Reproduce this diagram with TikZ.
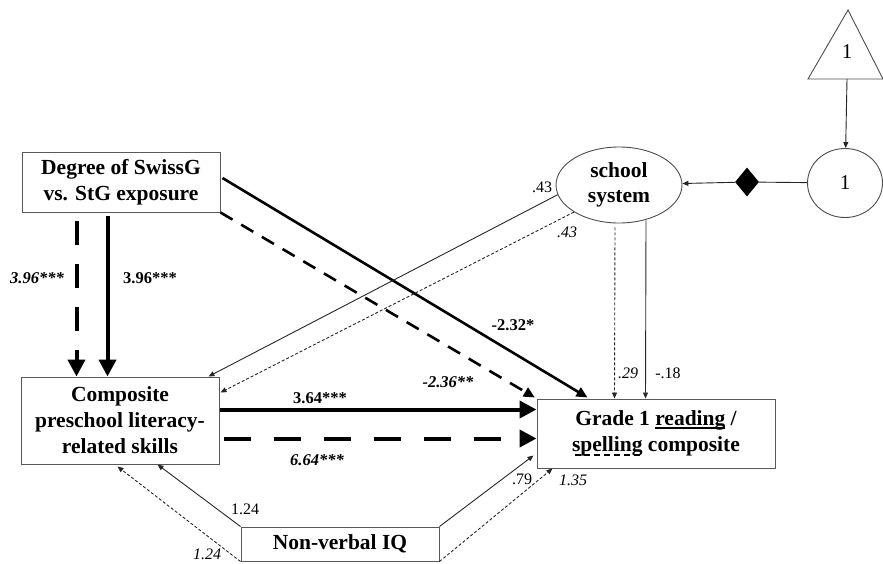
\documentclass[tikz,border=0pt]{standalone}
\usepackage{fontspec}
\setmainfont{Liberation Serif}
\usetikzlibrary{arrows.meta,shapes.geometric,calc}
\newsavebox{\ulbox}
\newcommand{\mythickul}[1]{\sbox{\ulbox}{#1}\rlap{\rule[-3pt]{\wd\ulbox}{1.8pt}}#1}
\newcommand{\mydashul}[1]{\sbox{\ulbox}{#1}\rlap{\hbox to \wd\ulbox{\xleaders\hbox{\hspace{1.5pt}\rule[-4pt]{6pt}{1.8pt}\hspace{1.5pt}}\hfill}}#1}
\begin{document}
\begin{tikzpicture}[x=1pt,y=-1pt,
  box/.style={draw=black!65, line width=1pt, align=center, inner sep=0pt,
    font=\fontsize{21.5}{26}\selectfont\bfseries},
  thickarr/.style={line width=4pt, -{Triangle[length=17pt,width=17pt]}},
  thickdash/.style={line width=4pt, dash pattern=on 24pt off 19pt, -{Triangle[length=17pt,width=17pt]}},
  midarr/.style={line width=2.6pt, -{Triangle[length=11pt,width=10pt]}},
  middash/.style={line width=2.6pt, dash pattern=on 14pt off 10pt, -{Triangle[length=11pt,width=10pt]}},
  thinarr/.style={line width=0.9pt, black!85, -{Triangle[length=6pt,width=5pt]}},
  thindash/.style={line width=0.9pt, black!85, dash pattern=on 3pt off 2pt, -{Triangle[length=6pt,width=5pt]}},
  lab/.style={inner sep=0pt, font=\fontsize{16}{16}\selectfont},
  blab/.style={inner sep=0pt, font=\fontsize{16.5}{16.5}\selectfont\bfseries},
  bilab/.style={inner sep=0pt, font=\fontsize{16.5}{16.5}\selectfont\bfseries\itshape},
  ilab/.style={inner sep=0pt, font=\fontsize{16}{16}\selectfont\itshape}
]
\useasboundingbox (0,0) rectangle (883,563);
% nodes
\node[box, minimum width=198pt, minimum height=60pt] (deg) at (121,182) {Degree of SwissG\\vs. StG exposure};
\node[box, minimum width=198pt, minimum height=87pt] (comp) at (120,420.5) {Composite\\preschool literacy-\\related skills};
\node[box, minimum width=238pt, minimum height=69pt] (grade) at (656,433.5)
  {Grade 1 \mythickul{reading} /\\ \mydashul{spelling} composite};
\node[box, minimum width=198pt, minimum height=34pt] (nviq) at (340,544) {Non-verbal IQ};
\node[ellipse, draw=black!70, line width=0.9pt, minimum width=126pt, minimum height=76pt, inner sep=0pt, align=center,
  font=\fontsize{21.5}{25}\selectfont\bfseries] (school) at (619,185) {school\\system};
\node[ellipse, draw=black!70, line width=0.9pt, minimum width=75pt, minimum height=69pt, inner sep=0pt,
  font=\fontsize{21}{21}\selectfont] (one) at (845,183) {1};
\draw[black!70, line width=0.9pt] (808,79) -- (848,10) -- (883,79) -- cycle;
\node[inner sep=0pt, font=\fontsize{21}{21}\selectfont] (tri) at (847,52) {1};
\coordinate (tribot) at (847,79);
\node[diamond, fill=black, minimum width=24pt, minimum height=29pt, inner sep=0pt] (dia) at (747,182) {};

% arrows
\draw[thinarr] (tribot) -- (one);
\draw[black!85, line width=0.9pt] (one) -- (dia);
\draw[thinarr] (dia) -- (school);

\draw[thickdash] ($(deg.south west)+(55,8)$) -- ($(comp.north west)+(56,0)$);
\draw[thickarr] ($(deg.south west)+(86,3)$) -- ($(comp.north west)+(87,0)$);
\draw[midarr] ($(deg.east)+(2,-4)$) -- ($(grade.north west)+(51,-1)$);
\draw[middash, shorten >=2pt] (deg.south east) -- (grade.north west);

\draw[thinarr] (school.189) -- ($(comp.north east)+(-11,0)$);
\draw[thindash] (school.211) -- ($(comp.north east)+(1,16)$);
\draw[thindash] ($(school.south)+(-4,4)$) -- ($(grade.north west)+(78,0)$);
\draw[thinarr] ($(school.south)+(27,-3)$) -- ($(grade.north west)+(109,0)$);

\draw[thickarr] ($(comp.north east)+(0,33)$) -- ($(grade.north west)+(0,11)$);
\draw[thickdash, dash pattern=on 27pt off 23pt] ($(comp.north east)+(4,62)$) -- ($(grade.north west)+(0,40)$);

\draw[thinarr] (nviq.north west) -- ($(comp.south west)+(137,0)$);
\draw[thindash] (nviq.south west) -- ($(comp.south west)+(97,2)$);
\draw[thinarr] (nviq.north east) -- ($(grade.south west)+(-3,-13)$);
\draw[thindash] (nviq.south east) -- ($(grade.south west)+(16,0)$);

% labels
\node[bilab] (l1) at (37,278) {3.96***};
\node[blab] (l2) at (150,278) {3.96***};
\node[blab] (l3) at (513,325) {-2.32*};
\node[bilab] (l4) at (448,382) {-2.36**};
\node[lab] (l5) at (542,187) {.43};
\node[ilab] (l6) at (567,232) {.43};
\node[ilab] (l7) at (628,373) {.29};
\node[lab] (l8) at (668,373) {-.18};
\node[blab] (l9) at (320,398) {3.64***};
\node[bilab] (l10) at (317,460) {6.64***};
\node[lab] (l11) at (245,509) {1.24};
\node[ilab] (l12) at (207,554) {1.24};
\node[lab] (l13) at (522,479) {.79};
\node[ilab] (l14) at (573,480) {1.35};
\end{tikzpicture}
\end{document}
